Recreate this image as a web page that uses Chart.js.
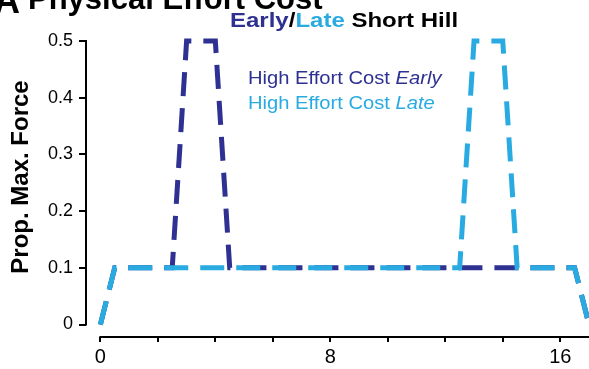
<!DOCTYPE html>
<html>
<head>
<meta charset="utf-8">
<script src="https://cdn.jsdelivr.net/npm/chart.js@4.4.1/dist/chart.umd.min.js"></script>
<style>
  html, body { margin: 0; padding: 0; background: #fff; }
  #wrap { width: 589px; height: 369px; }
</style>
</head>
<body>
<div id="wrap"><canvas id="effortChart"></canvas></div>
<script>
// force profile along the course (x) for the early and late hill
const earlyX = [0, 0.5, 2.5, 3, 4, 4.5, 16.5, 17];
const earlyY = [0, 0.1, 0.1, 0.5, 0.5, 0.1, 0.1, 0];
const lateX = [0, 0.5, 12.5, 13, 14, 14.5, 16.5, 17];
const lateY = [0, 0.1, 0.1, 0.5, 0.5, 0.1, 0.1, 0];
const xTickLabels = [0, 8, 16];
const yTickLabels = [0, 0.1, 0.2, 0.3, 0.4, 0.5];

const darkBlue = "#2e3192";
const lightBlue = "#29abe2";
const fontFamily = "'Liberation Sans', Arial, sans-serif";

Chart.defaults.font.family = fontFamily;
Chart.defaults.color = "#000";

// draws a row of differently styled text pieces, stretched a bit sideways
function drawRuns(ctx, runs, x, y, sx) {
  ctx.save();
  ctx.translate(x, y);
  ctx.scale(sx, 1);
  ctx.textBaseline = "alphabetic";
  ctx.textAlign = "left";
  let cx = 0;
  for (const r of runs) {
    ctx.font = r.font;
    ctx.fillStyle = r.color;
    ctx.fillText(r.text, cx, 0);
    cx += ctx.measureText(r.text).width;
  }
  ctx.restore();
}

const overlay = {
  id: "overlay",
  afterDraw(chart) {
    const { ctx, chartArea } = chart;
    const xs = chart.scales.x;
    const ys = chart.scales.y;
    ctx.save();

    // offset axis lines
    ctx.strokeStyle = "#000";
    ctx.lineWidth = 2;
    ctx.beginPath();
    ctx.moveTo(chartArea.left, ys.getPixelForValue(0.5) - 1);
    ctx.lineTo(chartArea.left, ys.getPixelForValue(0) + 1);
    ctx.moveTo(xs.getPixelForValue(0) - 1, chartArea.bottom);
    ctx.lineTo(chartArea.right, chartArea.bottom);
    ctx.stroke();

    // panel heading, cut off by the top edge
    drawRuns(ctx, [{ text: "A", font: "bold 36px " + fontFamily, color: "#000" }], -6, 13, 1);
    drawRuns(ctx, [{ text: "Physical Effort Cost", font: "bold 31px " + fontFamily, color: "#000" }], 28, 8.5, 1);

    // title
    const tf = "bold 20px " + fontFamily;
    drawRuns(ctx, [
      { text: "Early", font: tf, color: darkBlue },
      { text: "/", font: tf, color: "#000" },
      { text: "Late", font: tf, color: lightBlue },
      { text: " Short Hill", font: tf, color: "#000" }
    ], 230, 26.5, 1.2);

    // legend
    const lf = "18px " + fontFamily;
    const lfi = "italic 18px " + fontFamily;
    drawRuns(ctx, [
      { text: "High Effort Cost ", font: lf, color: darkBlue },
      { text: "Early", font: lfi, color: darkBlue }
    ], 248, 84.3, 1.12);
    drawRuns(ctx, [
      { text: "High Effort Cost ", font: lf, color: lightBlue },
      { text: "Late", font: lfi, color: lightBlue }
    ], 248, 109, 1.12);

    // y axis title
    ctx.translate(27.5, 177);
    ctx.rotate(-Math.PI / 2);
    ctx.font = "bold 24px " + fontFamily;
    ctx.fillStyle = "#000";
    ctx.textAlign = "center";
    ctx.textBaseline = "alphabetic";
    ctx.fillText("Prop. Max. Force", 0, 0);

    ctx.restore();
  }
};

new Chart(document.getElementById("effortChart"), {
  type: "line",
  data: {
    datasets: [
      {
        label: "High Effort Cost Early",
        data: earlyX.map((v, i) => ({ x: v, y: earlyY[i] })),
        borderColor: darkBlue,
        borderWidth: 5,
        borderDash: [24, 12],
        pointRadius: 0,
        tension: 0,
        fill: false,
        clip: false,
        order: 2
      },
      {
        label: "High Effort Cost Late",
        data: lateX.map((v, i) => ({ x: v, y: lateY[i] })),
        borderColor: lightBlue,
        borderWidth: 5,
        borderDash: [24, 12],
        pointRadius: 0,
        tension: 0,
        fill: false,
        clip: false,
        order: 1
      }
    ]
  },
  options: {
    responsive: true,
    maintainAspectRatio: false,
    animation: false,
    layout: { padding: { top: 41, left: 0, right: 0, bottom: 0 } },
    plugins: {
      legend: { display: false },
      title: { display: false },
      tooltip: { enabled: false }
    },
    scales: {
      x: {
        type: "linear",
        min: -0.5,
        max: 17,
        border: { display: false },
        grid: { drawOnChartArea: false, drawTicks: true, tickLength: 5, color: "#000", lineWidth: 2 },
        ticks: {
          stepSize: 2,
          includeBounds: false,
          autoSkip: false,
          maxRotation: 0,
          padding: 3,
          font: { size: 20 },
          callback: (v) => (xTickLabels.includes(v) ? String(v) : "")
        },
        afterFit: (s) => { s.height = 32; }
      },
      y: {
        min: -0.022,
        max: 0.5,
        border: { display: false },
        grid: { drawOnChartArea: false, drawTicks: true, tickLength: 7, color: "#000", lineWidth: 2 },
        ticks: {
          padding: 6,
          font: { size: 18 },
          callback: (v) => (v === 0 ? "0" : v.toFixed(1))
        },
        afterBuildTicks: (s) => { s.ticks = yTickLabels.map((v) => ({ value: v })); },
        afterFit: (s) => { s.width = 86; }
      }
    }
  },
  plugins: [overlay]
});
</script>
</body>
</html>
